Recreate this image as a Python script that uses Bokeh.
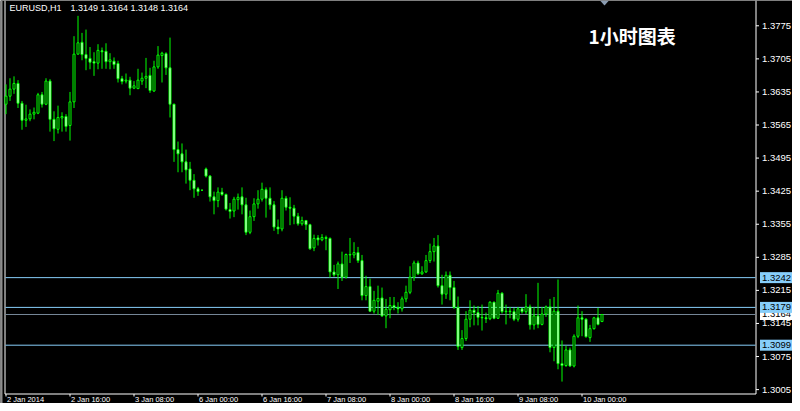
import numpy as np
from bokeh.plotting import figure
from bokeh.models import Range1d, Label, ColumnDataSource, BoxAnnotation
from bokeh.core.properties import value
from bokeh.embed import file_html
from bokeh.resources import INLINE

symbol = "EURUSD,H1"
last_quote = "1.3149 1.3164 1.3148 1.3164"
title_cn = "1小时图表"

opens = [1.3609, 1.3626, 1.3641, 1.3653, 1.3611, 1.3575, 1.3578, 1.3588, 1.3590, 1.3629,
         1.3609, 1.3658, 1.3577, 1.3556, 1.3580, 1.3583, 1.3564, 1.3614, 1.3715, 1.3740,
         1.3714, 1.3706, 1.3699, 1.3696, 1.3722, 1.3721, 1.3699, 1.3700, 1.3695, 1.3663,
         1.3658, 1.3660, 1.3643, 1.3642, 1.3658, 1.3664, 1.3670, 1.3637, 1.3688, 1.3712,
         1.3716, 1.3686, 1.3609, 1.3513, 1.3504, 1.3487, 1.3472, 1.3448, 1.3430, 1.3427,
         1.3472, 1.3457, 1.3413, 1.3405, 1.3423, 1.3418, 1.3386, 1.3383, 1.3407, 1.3413,
         1.3396, 1.3338, 1.3371, 1.3398, 1.3408, 1.3428, 1.3410, 1.3396, 1.3349, 1.3345,
         1.3410, 1.3391, 1.3389, 1.3372, 1.3356, 1.3363, 1.3354, 1.3305, 1.3326, 1.3322,
         1.3327, 1.3325, 1.3254, 1.3248, 1.3271, 1.3243, 1.3291, 1.3290, 1.3295, 1.3278,
         1.3204, 1.3223, 1.3171, 1.3192, 1.3199, 1.3161, 1.3174, 1.3183, 1.3179, 1.3176,
         1.3197, 1.3211, 1.3243, 1.3273, 1.3250, 1.3254, 1.3278, 1.3297, 1.3309, 1.3225,
         1.3207, 1.3247, 1.3221, 1.3179, 1.3094, 1.3113, 1.3154, 1.3173, 1.3168, 1.3158,
         1.3157, 1.3155, 1.3190, 1.3156, 1.3209, 1.3170, 1.3171, 1.3170, 1.3154, 1.3176,
         1.3170, 1.3180, 1.3142, 1.3161, 1.3143, 1.3165, 1.3180, 1.3094, 1.3171, 1.3060,
         1.3056, 1.3089, 1.3055, 1.3118, 1.3157, 1.3154, 1.3115, 1.3134, 1.3157, 1.3149]
highs = [1.3651, 1.3664, 1.3668, 1.3660, 1.3616, 1.3608, 1.3598, 1.3602, 1.3633, 1.3635,
         1.3664, 1.3662, 1.3594, 1.3606, 1.3592, 1.3588, 1.3635, 1.3753, 1.3796, 1.3760,
         1.3767, 1.3730, 1.3719, 1.3736, 1.3729, 1.3738, 1.3717, 1.3708, 1.3701, 1.3669,
         1.3674, 1.3667, 1.3658, 1.3684, 1.3676, 1.3707, 1.3686, 1.3701, 1.3732, 1.3720,
         1.3719, 1.3750, 1.3610, 1.3530, 1.3526, 1.3513, 1.3487, 1.3461, 1.3434, 1.3428,
         1.3475, 1.3459, 1.3424, 1.3433, 1.3432, 1.3420, 1.3400, 1.3413, 1.3420, 1.3433,
         1.3411, 1.3384, 1.3410, 1.3427, 1.3443, 1.3433, 1.3433, 1.3404, 1.3365, 1.3427,
         1.3415, 1.3412, 1.3396, 1.3379, 1.3371, 1.3364, 1.3356, 1.3333, 1.3332, 1.3334,
         1.3331, 1.3327, 1.3269, 1.3276, 1.3297, 1.3293, 1.3326, 1.3317, 1.3307, 1.3290,
         1.3246, 1.3240, 1.3214, 1.3225, 1.3221, 1.3197, 1.3201, 1.3201, 1.3190, 1.3202,
         1.3225, 1.3266, 1.3278, 1.3278, 1.3266, 1.3290, 1.3314, 1.3326, 1.3332, 1.3248,
         1.3255, 1.3255, 1.3235, 1.3202, 1.3131, 1.3171, 1.3194, 1.3183, 1.3182, 1.3185,
         1.3168, 1.3192, 1.3191, 1.3216, 1.3211, 1.3185, 1.3180, 1.3178, 1.3180, 1.3178,
         1.3207, 1.3185, 1.3180, 1.3231, 1.3180, 1.3183, 1.3197, 1.3201, 1.3238, 1.3109,
         1.3098, 1.3094, 1.3122, 1.3183, 1.3171, 1.3156, 1.3142, 1.3159, 1.3178, 1.3164]
lows = [1.3588, 1.3616, 1.3631, 1.3601, 1.3555, 1.3561, 1.3573, 1.3577, 1.3588, 1.3602,
        1.3607, 1.3551, 1.3531, 1.3547, 1.3551, 1.3551, 1.3532, 1.3601, 1.3714, 1.3702,
        1.3681, 1.3683, 1.3669, 1.3683, 1.3684, 1.3684, 1.3683, 1.3684, 1.3655, 1.3651,
        1.3653, 1.3628, 1.3641, 1.3642, 1.3650, 1.3643, 1.3633, 1.3635, 1.3684, 1.3655,
        1.3671, 1.3581, 1.3487, 1.3465, 1.3465, 1.3441, 1.3427, 1.3411, 1.3415, 1.3426,
        1.3454, 1.3403, 1.3376, 1.3391, 1.3415, 1.3384, 1.3367, 1.3370, 1.3386, 1.3376,
        1.3332, 1.3334, 1.3362, 1.3388, 1.3403, 1.3369, 1.3386, 1.3341, 1.3334, 1.3340,
        1.3384, 1.3353, 1.3355, 1.3352, 1.3352, 1.3343, 1.3301, 1.3298, 1.3310, 1.3319,
        1.3300, 1.3242, 1.3244, 1.3218, 1.3235, 1.3240, 1.3273, 1.3283, 1.3273, 1.3194,
        1.3194, 1.3170, 1.3166, 1.3163, 1.3159, 1.3135, 1.3156, 1.3173, 1.3166, 1.3170,
        1.3190, 1.3207, 1.3235, 1.3248, 1.3248, 1.3252, 1.3273, 1.3276, 1.3221, 1.3185,
        1.3197, 1.3194, 1.3176, 1.3089, 1.3089, 1.3108, 1.3137, 1.3141, 1.3141, 1.3130,
        1.3146, 1.3152, 1.3154, 1.3155, 1.3166, 1.3143, 1.3156, 1.3150, 1.3149, 1.3166,
        1.3165, 1.3132, 1.3132, 1.3135, 1.3141, 1.3159, 1.3084, 1.3065, 1.3048, 1.3022,
        1.3053, 1.3053, 1.3052, 1.3114, 1.3118, 1.3115, 1.3106, 1.3132, 1.3141, 1.3148]
closes = [1.3626, 1.3641, 1.3653, 1.3611, 1.3575, 1.3578, 1.3588, 1.3592, 1.3629, 1.3609,
          1.3658, 1.3577, 1.3557, 1.3581, 1.3583, 1.3562, 1.3614, 1.3715, 1.3739, 1.3714,
          1.3706, 1.3698, 1.3696, 1.3723, 1.3720, 1.3699, 1.3703, 1.3693, 1.3663, 1.3657,
          1.3660, 1.3643, 1.3648, 1.3660, 1.3664, 1.3668, 1.3638, 1.3688, 1.3713, 1.3717,
          1.3686, 1.3609, 1.3513, 1.3504, 1.3487, 1.3470, 1.3448, 1.3430, 1.3424, 1.3427,
          1.3457, 1.3413, 1.3405, 1.3423, 1.3418, 1.3387, 1.3382, 1.3408, 1.3412, 1.3396,
          1.3338, 1.3371, 1.3398, 1.3408, 1.3429, 1.3410, 1.3396, 1.3349, 1.3345, 1.3410,
          1.3391, 1.3389, 1.3372, 1.3356, 1.3363, 1.3354, 1.3303, 1.3325, 1.3322, 1.3327,
          1.3325, 1.3254, 1.3248, 1.3271, 1.3243, 1.3291, 1.3290, 1.3295, 1.3278, 1.3204,
          1.3223, 1.3171, 1.3194, 1.3198, 1.3161, 1.3175, 1.3183, 1.3179, 1.3176, 1.3197,
          1.3211, 1.3243, 1.3273, 1.3250, 1.3254, 1.3278, 1.3297, 1.3309, 1.3225, 1.3207,
          1.3247, 1.3221, 1.3179, 1.3096, 1.3113, 1.3154, 1.3173, 1.3168, 1.3158, 1.3157,
          1.3155, 1.3190, 1.3156, 1.3209, 1.3170, 1.3171, 1.3170, 1.3154, 1.3176, 1.3170,
          1.3180, 1.3142, 1.3161, 1.3143, 1.3165, 1.3180, 1.3094, 1.3171, 1.3060, 1.3056,
          1.3089, 1.3055, 1.3118, 1.3157, 1.3154, 1.3117, 1.3134, 1.3157, 1.3143, 1.3164]

price_ticks = [1.3005, 1.3075, 1.3145, 1.3215, 1.3285, 1.3355, 1.3425, 1.3495,
               1.3565, 1.3635, 1.3705, 1.3775]
time_ticks = [0, 16, 32, 48, 64, 80, 96, 112, 128, 144]
time_labels = ["2 Jan 2014", "2 Jan 16:00", "3 Jan 08:00", "6 Jan 00:00", "6 Jan 16:00",
               "7 Jan 08:00", "8 Jan 00:00", "8 Jan 16:00", "9 Jan 08:00", "10 Jan 00:00"]
level_prices = [1.3242, 1.3179, 1.3099]
bid_price = 1.3164

# ---- layout (pixels of the canvas) ----
W, H = 792, 403
PX_PER_BAR = 4.0
x_start = -5.5 / PX_PER_BAR            # bar 0 centred on pixel column 5
Y_TOP = 1.382852                        # price at the top pixel row
PX_PRICE = 0.00021164                   # price per pixel row
y_lo = Y_TOP - H * PX_PRICE

def xpx(px):
    return x_start + px / PX_PER_BAR

def ypx(px):
    return Y_TOP - px * PX_PRICE

AXIS_X = 755.5        # right price-axis line
FLOOR = ypx(393.5)    # bottom time-axis line
LEFT_X = 4.5

LIME = "#00FF00"
SKY = "#87CEFA"
FONT = "Liberation Sans"

p = figure(width=W, height=H, output_backend="svg", toolbar_location=None,
           x_range=Range1d(x_start, xpx(W)), y_range=Range1d(y_lo, Y_TOP),
           x_axis_location=None, y_axis_location=None,
           min_border=0, min_border_left=0, min_border_right=0,
           min_border_top=0, min_border_bottom=0,
           background_fill_color="black", border_fill_color="black",
           outline_line_color=None)
p.grid.visible = False

# window edge and chart frame
p.add_layout(BoxAnnotation(left=x_start, right=xpx(2), fill_color="#8c8c8c",
                           fill_alpha=1, line_color=None))
p.segment(x0=[xpx(LEFT_X), xpx(AXIS_X), xpx(LEFT_X)],
          y0=[FLOOR, FLOOR, FLOOR],
          x1=[xpx(LEFT_X), xpx(AXIS_X), xpx(AXIS_X)],
          y1=[Y_TOP, Y_TOP, FLOOR], line_color="white", line_width=1)

# horizontal levels (drawn inside the chart area only)
p.segment(x0=[xpx(5)], y0=[bid_price], x1=[xpx(AXIS_X - 0.5)], y1=[bid_price],
          line_color="#778899", line_width=1)
p.segment(x0=[xpx(5)] * len(level_prices), y0=level_prices,
          x1=[xpx(AXIS_X - 0.5)] * len(level_prices), y1=level_prices,
          line_color=SKY, line_width=1)

# candles
o = np.array(opens)
c = np.array(closes)
h = np.maximum(np.maximum(np.array(highs), o), c)
l = np.minimum(np.minimum(np.array(lows), o), c)
fill = np.where(c < o, "white", "black")
src = ColumnDataSource(dict(x=np.arange(len(c)), h=h, l=l,
                            top=np.maximum(o, c), bottom=np.minimum(o, c), fill=fill))
p.segment(x0="x", y0="l", x1="x", y1="h", source=src, line_color=LIME, line_width=1)
p.vbar(x="x", width=0.5, top="top", bottom="bottom", source=src,
       fill_color="fill", line_color=LIME, line_width=1)

# right price scale: ticks + labels
n = len(price_ticks)
p.segment(x0=[xpx(AXIS_X)] * n, y0=price_ticks, x1=[xpx(AXIS_X + 3)] * n, y1=price_ticks,
          line_color="white", line_width=1)
p.text(x=[xpx(AXIS_X + 6)] * n, y=price_ticks, text=[f"{t:.4f}" for t in price_ticks],
       text_color="white", text_font=value(FONT), text_font_size="9.5px",
       text_baseline="middle", text_align="left")

# bottom time scale: ticks + labels
m = len(time_ticks)
p.segment(x0=time_ticks, y0=[FLOOR] * m, x1=time_ticks, y1=[ypx(396)] * m,
          line_color="white", line_width=1)
p.text(x=time_ticks, y=[ypx(394.6)] * m, text=time_labels, x_offset=1,
       text_color="white", text_font=value(FONT), text_font_size="7.5px",
       text_baseline="top", text_align="left")

# price boxes on the scale (bid first, levels on top)
box_x = xpx(AXIS_X + 20)
p.rect(x=[box_x], y=[bid_price], width=32, height=11, width_units="screen",
       height_units="screen", fill_color="white", line_color=None)
p.text(x=[xpx(AXIS_X + 6)], y=[bid_price], text=[f"{bid_price:.4f}"], text_color="black",
       text_font=value(FONT), text_font_size="9.5px", text_baseline="middle")
k = len(level_prices)
p.rect(x=[box_x] * k, y=level_prices, width=32, height=11, width_units="screen",
       height_units="screen", fill_color=SKY, line_color=None)
p.text(x=[xpx(AXIS_X + 6)] * k, y=level_prices, text=[f"{v:.4f}" for v in level_prices],
       text_color="black", text_font=value(FONT), text_font_size="9.5px",
       text_baseline="middle")

# small icon tip at top
p.patch(x=[xpx(599.5), xpx(608.5), xpx(604)], y=[Y_TOP, Y_TOP, ypx(5)],
        fill_color="#8a9bb0", line_color=None)

# header texts
p.add_layout(Label(x=9, y=H - 7, x_units="screen", y_units="screen", text=symbol,
                   text_color="white", text_font=FONT, text_font_size="9px",
                   text_baseline="alphabetic"))
p.add_layout(Label(x=70, y=H - 7, x_units="screen", y_units="screen", text=last_quote,
                   text_color="white", text_font=FONT, text_font_size="9px",
                   text_baseline="alphabetic"))
p.add_layout(Label(x=588, y=H - 35, x_units="screen", y_units="screen", text=title_cn,
                   text_color="white", text_font="Noto Sans CJK SC", text_font_size="19px",
                   text_font_style="bold", text_baseline="middle"))

open("out.html", "w").write(file_html(p, INLINE))
